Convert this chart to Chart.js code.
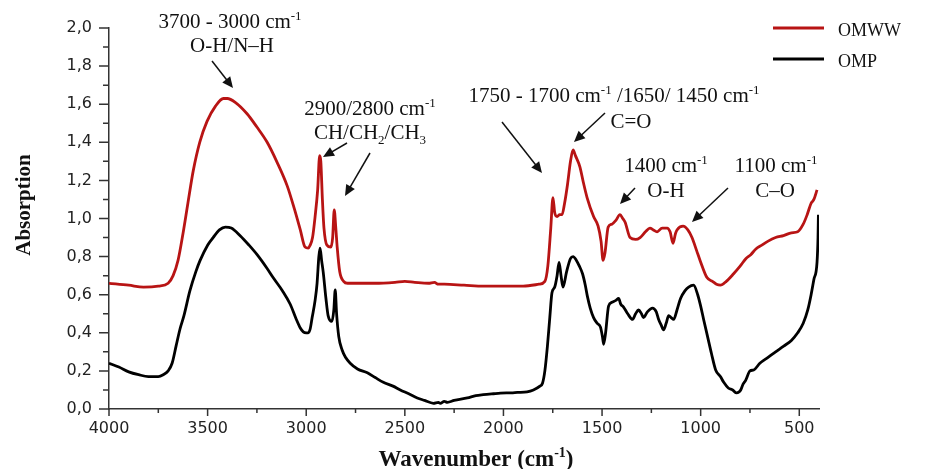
<!DOCTYPE html>
<html>
<head>
<meta charset="utf-8">
<script src="https://cdn.jsdelivr.net/npm/chart.js@4.4.1/dist/chart.umd.min.js"></script>
<style>
  html, body { margin: 0; padding: 0; background: #fff; }
  #wrap { width: 925px; height: 469px; }
</style>
</head>
<body>
<div id="wrap"><canvas id="ftir" width="925" height="469"></canvas></div>
<script>
const seriesNames = ["OMWW", "OMP"];
const seriesColors = ["#b81414", "#000000"];

// OMWW spectrum (wavenumber, absorption)
const omwwWave = [4000, 3900, 3825, 3750, 3700, 3675, 3650, 3625, 3600, 3573, 3540, 3503, 3460, 3420, 3400, 3360, 3300, 3250, 3198, 3150, 3096, 3060, 3030, 3006, 2990, 2980, 2968, 2955, 2942, 2932, 2926, 2918, 2910, 2895, 2875, 2866, 2858, 2850, 2843, 2830, 2810, 2790, 2750, 2650, 2550, 2500, 2450, 2380, 2350, 2330, 2300, 2200, 2100, 2000, 1900, 1820, 1790, 1775, 1760, 1749, 1740, 1728, 1715, 1703, 1690, 1675, 1660, 1647, 1635, 1612, 1595, 1576, 1543, 1520, 1505, 1495, 1485, 1469, 1450, 1430, 1409, 1395, 1383, 1358, 1330, 1307, 1280, 1257, 1240, 1221, 1195, 1170, 1155, 1140, 1128, 1120, 1089, 1065, 1044, 1020, 1003, 968, 940, 920, 900, 870, 833, 800, 770, 746, 720, 690, 660, 620, 580, 540, 508, 480, 460, 440, 426, 410];
const omwwAbs = [0.66, 0.65, 0.64, 0.645, 0.66, 0.70, 0.78, 0.92, 1.08, 1.25, 1.40, 1.51, 1.59, 1.63, 1.63, 1.61, 1.55, 1.48, 1.40, 1.30, 1.17, 1.05, 0.94, 0.85, 0.845, 0.86, 0.90, 1.01, 1.15, 1.33, 1.30, 1.10, 0.95, 0.86, 0.85, 0.90, 1.045, 0.95, 0.85, 0.72, 0.67, 0.66, 0.66, 0.66, 0.665, 0.67, 0.665, 0.66, 0.665, 0.655, 0.655, 0.65, 0.645, 0.645, 0.645, 0.655, 0.67, 0.75, 0.95, 1.11, 1.03, 1.01, 1.02, 1.02, 1.08, 1.18, 1.30, 1.36, 1.33, 1.27, 1.19, 1.11, 1.01, 0.96, 0.88, 0.78, 0.82, 0.955, 0.97, 0.99, 1.02, 1.00, 0.98, 0.90, 0.89, 0.90, 0.93, 0.95, 0.94, 0.93, 0.95, 0.95, 0.93, 0.87, 0.92, 0.94, 0.96, 0.94, 0.90, 0.83, 0.78, 0.69, 0.67, 0.655, 0.65, 0.67, 0.71, 0.75, 0.79, 0.81, 0.84, 0.86, 0.88, 0.90, 0.91, 0.925, 0.93, 0.97, 1.02, 1.08, 1.10, 1.15];

// OMP spectrum (wavenumber, absorption)
const ompWave = [4000, 3950, 3900, 3850, 3800, 3750, 3725, 3700, 3680, 3660, 3640, 3620, 3590, 3560, 3538, 3500, 3472, 3440, 3410, 3380, 3335, 3290, 3249, 3200, 3168, 3120, 3081, 3050, 3030, 3015, 3000, 2990, 2980, 2970, 2955, 2945, 2936, 2930, 2922, 2914, 2900, 2889, 2870, 2860, 2853, 2846, 2835, 2818, 2800, 2777, 2740, 2690, 2650, 2609, 2560, 2523, 2480, 2437, 2400, 2355, 2330, 2320, 2300, 2284, 2250, 2183, 2140, 2102, 2050, 2015, 1960, 1929, 1880, 1848, 1815, 1802, 1790, 1777, 1765, 1754, 1740, 1728, 1718, 1708, 1698, 1680, 1660, 1647, 1630, 1615, 1599, 1585, 1574, 1560, 1543, 1525, 1508, 1498, 1492, 1482, 1467, 1450, 1430, 1416, 1405, 1391, 1370, 1345, 1330, 1315, 1300, 1290, 1270, 1244, 1225, 1213, 1200, 1188, 1175, 1162, 1150, 1137, 1120, 1102, 1080, 1061, 1036, 1015, 1000, 985, 965, 945, 924, 900, 883, 860, 838, 820, 805, 797, 785, 772, 750, 731, 700, 660, 620, 579, 540, 508, 480, 457, 440, 426, 410, 405, 403];
const ompAbs = [0.24, 0.22, 0.195, 0.18, 0.17, 0.17, 0.18, 0.20, 0.24, 0.33, 0.42, 0.49, 0.62, 0.72, 0.78, 0.86, 0.90, 0.94, 0.955, 0.95, 0.91, 0.86, 0.81, 0.74, 0.69, 0.62, 0.55, 0.47, 0.425, 0.405, 0.40, 0.40, 0.42, 0.48, 0.57, 0.66, 0.80, 0.845, 0.78, 0.72, 0.58, 0.49, 0.46, 0.52, 0.625, 0.50, 0.38, 0.31, 0.27, 0.24, 0.21, 0.19, 0.165, 0.14, 0.12, 0.10, 0.08, 0.058, 0.045, 0.03, 0.035, 0.03, 0.04, 0.035, 0.045, 0.058, 0.07, 0.075, 0.08, 0.083, 0.085, 0.087, 0.09, 0.10, 0.12, 0.135, 0.20, 0.33, 0.48, 0.61, 0.64, 0.70, 0.77, 0.70, 0.64, 0.72, 0.79, 0.80, 0.78, 0.75, 0.71, 0.65, 0.59, 0.53, 0.48, 0.45, 0.43, 0.38, 0.34, 0.40, 0.54, 0.56, 0.57, 0.58, 0.55, 0.535, 0.50, 0.47, 0.50, 0.52, 0.50, 0.48, 0.51, 0.53, 0.51, 0.47, 0.44, 0.415, 0.45, 0.49, 0.48, 0.47, 0.52, 0.58, 0.62, 0.64, 0.65, 0.60, 0.54, 0.47, 0.38, 0.29, 0.205, 0.17, 0.14, 0.11, 0.10, 0.085, 0.09, 0.10, 0.13, 0.15, 0.20, 0.205, 0.24, 0.27, 0.30, 0.33, 0.36, 0.40, 0.45, 0.52, 0.60, 0.68, 0.77, 0.90, 1.02];

const xTicks = [4000, 3500, 3000, 2500, 2000, 1500, 1000, 500];
const yTicks = [0, 0.2, 0.4, 0.6, 0.8, 1.0, 1.2, 1.4, 1.6, 1.8, 2.0];

// band annotations: text lines (parts: [text, "sup"|"sub"]), centre x per line, baselines, arrows
const bandNotes = [
  { lines: [[["3700 - 3000 cm"], ["-1", "sup"]], [["O-H/N\u2013H"]]], cx: [230, 232], y: [28, 52],
    arrows: [[212, 61, 233, 88]] },
  { lines: [[["2900/2800 cm"], ["-1", "sup"]], [["CH/CH"], ["2", "sub"], ["/CH"], ["3", "sub"]]], cx: [370, 370], y: [115, 139],
    arrows: [[347, 143, 323, 157], [370, 153, 345, 196]] },
  { lines: [[["1750 - 1700 cm"], ["-1", "sup"], [" /1650/ 1450 cm"], ["-1", "sup"]], [["C=O"]]], cx: [614, 631], y: [102, 128],
    arrows: [[502, 122, 542, 173], [605, 113, 574, 142]] },
  { lines: [[["1400 cm"], ["-1", "sup"]], [["O-H"]]], cx: [666, 666], y: [172, 197],
    arrows: [[635, 188, 620, 204]] },
  { lines: [[["1100 cm"], ["-1", "sup"]], [["C\u2013O"]]], cx: [776, 775], y: [172, 197],
    arrows: [[728, 188, 692, 222]] }
];

const SERIF = '"Liberation Serif", "Times New Roman", serif';

function richText(ctx, parts, cx, y, size, bold) {
  const w0 = bold ? "bold " : "";
  const big = w0 + size + "px " + SERIF;
  const small = w0 + Math.round(size * 0.62) + "px " + SERIF;
  let total = 0;
  parts.forEach(p => { ctx.font = p[1] ? small : big; total += ctx.measureText(p[0]).width; });
  let x = cx - total / 2;
  parts.forEach(p => {
    ctx.font = p[1] ? small : big;
    let dy = 0;
    if (p[1] === "sup") dy = -size * 0.4;
    if (p[1] === "sub") dy = size * 0.22;
    ctx.fillText(p[0], x, y + dy);
    x += ctx.measureText(p[0]).width;
  });
}

function arrow(ctx, x1, y1, x2, y2) {
  const a = Math.atan2(y2 - y1, x2 - x1);
  const hl = 11, hw = 5;
  ctx.beginPath();
  ctx.moveTo(x1, y1);
  ctx.lineTo(x2 - hl * 0.8 * Math.cos(a), y2 - hl * 0.8 * Math.sin(a));
  ctx.stroke();
  ctx.beginPath();
  ctx.moveTo(x2, y2);
  ctx.lineTo(x2 - hl * Math.cos(a) + hw * Math.sin(a), y2 - hl * Math.sin(a) - hw * Math.cos(a));
  ctx.lineTo(x2 - hl * Math.cos(a) - hw * Math.sin(a), y2 - hl * Math.sin(a) + hw * Math.cos(a));
  ctx.closePath();
  ctx.fill();
}

const decorPlugin = {
  id: "decor",
  afterDraw(chart) {
    const ctx = chart.ctx;
    const xs = chart.scales.x, ys = chart.scales.y;
    const area = chart.chartArea;
    ctx.save();

    // tick marks, major and minor
    ctx.strokeStyle = "#333";
    ctx.lineWidth = 1.5;
    ctx.beginPath();
    xTicks.forEach((v, i) => {
      const px = xs.getPixelForValue(v);
      ctx.moveTo(px, area.bottom); ctx.lineTo(px, area.bottom + 7);
      if (i < xTicks.length - 1) {
        const m = xs.getPixelForValue((v + xTicks[i + 1]) / 2);
        ctx.moveTo(m, area.bottom); ctx.lineTo(m, area.bottom + 4);
      }
    });
    yTicks.forEach((v, i) => {
      const py = ys.getPixelForValue(v);
      ctx.moveTo(area.left, py); ctx.lineTo(area.left - 10, py);
      if (i < yTicks.length - 1) {
        const m = ys.getPixelForValue((v + yTicks[i + 1]) / 2);
        ctx.moveTo(area.left, m); ctx.lineTo(area.left - 6, m);
      }
    });
    ctx.stroke();

    // axis titles
    ctx.fillStyle = "#111";
    ctx.textAlign = "left";
    ctx.textBaseline = "alphabetic";
    richText(ctx, [["Wavenumber (cm"], ["-1", "sup"], [")"]], 476, 466, 23, true);
    ctx.save();
    ctx.translate(30, 205);
    ctx.rotate(-Math.PI / 2);
    richText(ctx, [["Absorption"]], 0, 0, 21, true);
    ctx.restore();

    // band annotations
    ctx.fillStyle = "#111";
    ctx.strokeStyle = "#111";
    ctx.lineWidth = 1.5;
    bandNotes.forEach(n => {
      n.lines.forEach((ln, i) => richText(ctx, ln, n.cx[i], n.y[i], 21, false));
      n.arrows.forEach(a => arrow(ctx, a[0], a[1], a[2], a[3]));
    });

    // legend
    chart.data.datasets.forEach((ds, i) => {
      const ly = 28 + i * 31;
      ctx.strokeStyle = ds.borderColor;
      ctx.lineWidth = 3;
      ctx.beginPath();
      ctx.moveTo(773, ly); ctx.lineTo(824, ly);
      ctx.stroke();
      ctx.fillStyle = "#111";
      ctx.font = "18px " + SERIF;
      ctx.textAlign = "left";
      ctx.fillText(ds.label, 838, ly + 8);
    });
    ctx.restore();
  }
};

function toPoints(xsArr, ysArr) {
  return xsArr.map((x, i) => ({ x: x, y: ysArr[i] }));
}

new Chart(document.getElementById("ftir"), {
  type: "line",
  data: {
    datasets: [
      { label: seriesNames[0], data: toPoints(omwwWave, omwwAbs), borderColor: seriesColors[0], borderWidth: 2.8, pointRadius: 0, cubicInterpolationMode: "monotone" },
      { label: seriesNames[1], data: toPoints(ompWave, ompAbs), borderColor: seriesColors[1], borderWidth: 2.8, pointRadius: 0, cubicInterpolationMode: "monotone" }
    ]
  },
  options: {
    responsive: false,
    animation: false,
    events: [],
    layout: { padding: { left: 0, top: 28, right: 106, bottom: 0 } },
    plugins: { legend: { display: false }, tooltip: { enabled: false } },
    scales: {
      x: {
        type: "linear",
        reverse: true,
        min: 400,
        max: 4000,
        grid: { display: false, drawTicks: false },
        border: { display: true, color: "#333", width: 1.5 },
        afterBuildTicks: s => { s.ticks = xTicks.map(v => ({ value: v })); },
        afterFit: s => { s.height = 60; },
        ticks: { color: "#222", padding: 10, maxRotation: 0, font: { family: "DejaVu Sans", size: 16 }, callback: v => String(v) }
      },
      y: {
        min: 0,
        max: 2.0,
        grid: { display: false, drawTicks: false },
        border: { display: true, color: "#333", width: 1.5 },
        afterBuildTicks: s => { s.ticks = yTicks.map(v => ({ value: v })); },
        afterFit: s => { s.width = 109; },
        ticks: { color: "#222", padding: 17, font: { family: "DejaVu Sans", size: 16 }, callback: v => v.toFixed(1).replace(".", ",") }
      }
    }
  },
  plugins: [decorPlugin]
});
</script>
</body>
</html>
